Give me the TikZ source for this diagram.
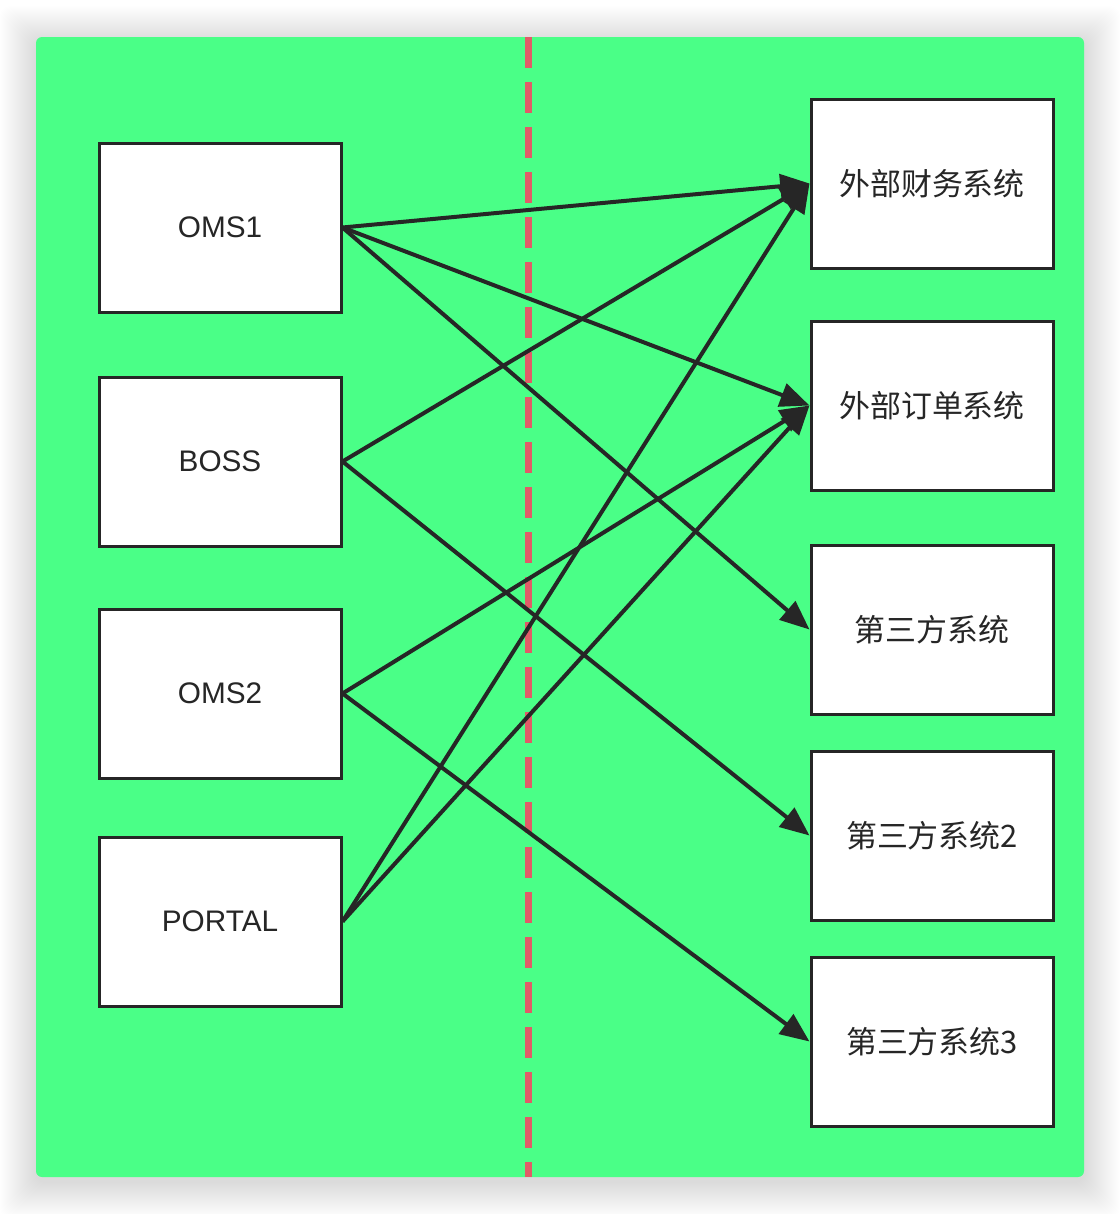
\documentclass[tikz,border=0pt]{standalone}
\usepackage{fontspec}
\setmainfont{Liberation Sans}
\newfontfamily\cjk{Noto Sans CJK SC}
\usetikzlibrary{arrows.meta}
\definecolor{bggreen}{RGB}{74,255,135}
\definecolor{dashred}{RGB}{224,92,104}
\definecolor{ink}{RGB}{38,38,38}
\tikzset{
  box/.style={draw=ink, fill=white, line width=2.25pt, minimum width=181.5pt, minimum height=126.75pt, inner sep=0pt, text=ink, font=\fontsize{22.3pt}{25pt}\selectfont},
  cbox/.style={box, font=\cjk\fontsize{23.2pt}{26pt}\selectfont},
  link/.style={draw=ink, line width=3pt, -{Triangle[length=22pt, width=18pt]}},
  divider/.style={draw=dashred, line width=5.25pt, dash pattern=on 23pt off 10.75pt}
}
\begin{document}
\begin{tikzpicture}[x=0.75pt, y=-0.75pt]
\useasboundingbox (0,0) rectangle (1120,1214);
\fill[white] (0,0) rectangle (1120,1214);
% soft shadow
\foreach \i in {1,...,36}{
  \fill[black, opacity=0.0045, rounded corners=8pt] (36-\i,37-\i+5) rectangle (1084+\i,1177+\i+5);
}
\fill[bggreen, rounded corners=4.5pt] (36,37) rectangle (1084,1177);
\coordinate (dtop) at (528,37);
\coordinate (dbot) at (528,1177);
\draw[divider] (dtop) -- (dbot);

\node[box] (oms1) at (220,227.5) {OMS1};
\node[box] (boss) at (220,461.5) {BOSS};
\node[box] (oms2) at (220,693.5) {OMS2};
\node[box] (portal) at (220,921.5) {PORTAL};

\node[cbox] (cw) at (932,183.5) {外部财务系统};
\node[cbox] (dd) at (932,405.5) {外部订单系统};
\node[cbox] (t1) at (932,629.5) {第三方系统};
\node[cbox] (t2) at (932,835.5) {第三方系统2};
\node[cbox] (t3) at (932,1041.5) {第三方系统3};

\draw[link] (oms1.east) -- (cw.west);
\draw[link] (oms1.east) -- (dd.west);
\draw[link] (oms1.east) -- (t1.west);
\draw[link] (boss.east) -- (cw.west);
\draw[link] (boss.east) -- (t2.west);
\draw[link] (oms2.east) -- (dd.west);
\draw[link] (oms2.east) -- (t3.west);
\draw[link] (portal.east) -- (cw.west);
\draw[link] (portal.east) -- (dd.west);
\end{tikzpicture}
\end{document}
